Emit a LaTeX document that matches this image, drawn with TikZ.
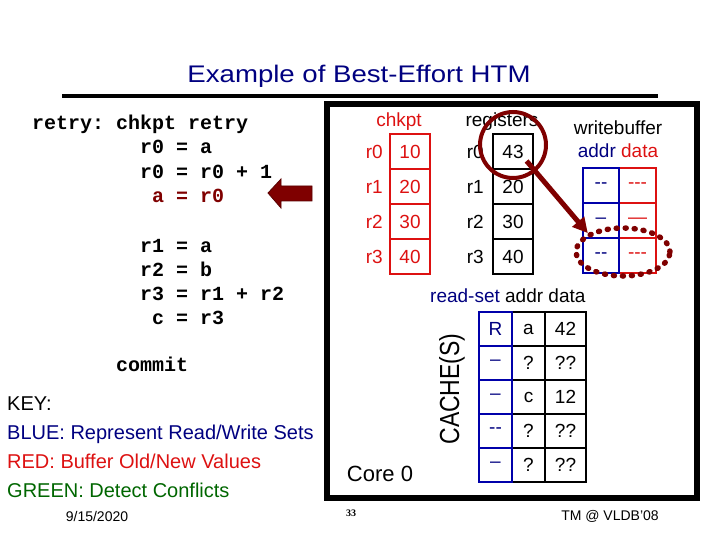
\documentclass[tikz,border=0pt]{standalone}
\usepackage{fontspec}
\setmainfont{Liberation Sans}
\setmonofont{Liberation Mono}
\newfontfamily\slidenum{Liberation Serif}
\usetikzlibrary{positioning}
\usetikzlibrary{shapes.geometric, arrows.meta}

\definecolor{navy}{HTML}{000080}
\definecolor{hotred}{HTML}{DD1111}
\definecolor{maroon}{HTML}{7F0000}
\definecolor{keygreen}{HTML}{006600}
\definecolor{setblue}{HTML}{0000AA}

\newcommand\twodash{-\kern0pt-}
\newcommand\threedash{-\kern0pt-\kern0pt-}
\newcommand\fsz[1]{\fontsize{#1}{#1}\selectfont}

\begin{document}
\begin{tikzpicture}[x=1pt, y=-1pt,
  cell/.style={draw, line width=2pt, inner sep=0pt, minimum width=40pt, minimum height=35pt, font=\fsz{19}},
  chkcell/.style={cell, draw=hotred, text=hotred},
  regcell/.style={cell, draw=black},
  addrcell/.style={cell, draw=setblue, text=navy, minimum width=36pt},
  datacell/.style={cell, draw=hotred, text=hotred, minimum width=37pt},
  rscell/.style={cell, draw=setblue, text=navy, minimum width=33pt, minimum height=34pt},
  cachecell/.style={cell, minimum width=33pt, minimum height=34pt},
  regname/.style={inner sep=0pt, font=\fsz{19}},
  code/.style={anchor=base west, inner sep=0pt, font=\fsz{20}\ttfamily\bfseries},
  keyline/.style={anchor=base west, inner sep=0pt, font=\fsz{20}}]

\useasboundingbox (0,0) rectangle (720,540);

% title and rule
\node[anchor=base, inner sep=0pt, text=navy, font=\fsz{24}, xscale=1.15] (title) at (359,83) {Example of Best-Effort HTM};
\draw[line width=4pt] (62,96) -- (658,96);

% program
\foreach \col/\row/\txt in {0/130/{retry: chkpt retry}, 9/154/{r0 = a}, 9/179/{r0 = r0 + 1},
    9/252/{r1 = a}, 9/276/{r2 = b}, 9/300/{r3 = r1 + r2}, 10/324/{c = r3}, 7/371/{commit}}
  \node[code] at ({32+12*\col},\row) {\txt};
\node[code, text=maroon] (cur) at (152,203) {a = r0};

% pointer to current line
\filldraw[fill=maroon, draw=maroon!70!black, line width=0.8pt]
  (268,193) -- (281,179) -- (281,186) -- (312,186) -- (312,201) -- (281,201) -- (281,208) -- cycle;

% key
\node[keyline] (key) at (7,410) {KEY:};
\node[keyline, text=navy] (kblue) at (7,439) {BLUE: Represent Read/Write Sets};
\node[keyline, text=hotred] (kred) at (7,468) {RED: Buffer Old/New Values};
\node[keyline, text=keygreen] (kgreen) at (7,497) {GREEN: Detect Conflicts};
\node[anchor=base, inner sep=0pt, font=\fsz{14}] (date) at (97,521) {9/15/2020};

% core frame
\draw[line width=6pt] (327,104) rectangle (697,498);
\node[anchor=base, inner sep=0pt, font=\fsz{22}] (core) at (380,481) {Core 0};
\node[inner sep=0pt, font=\fsz{23}, rotate=90, yscale=1.2] (cache) at (452,389) {CACHE(S)};

% checkpoint and registers
\node[anchor=base, inner sep=0pt, text=hotred, font=\fsz{19}] (chklbl) at (399,127) {chkpt};
\node[anchor=base, inner sep=0pt, font=\fsz{19}] (reglbl) at (502,127) {registers};
\foreach \i/\old/\new in {0/10/43, 1/20/20, 2/30/30, 3/40/40} {
  \node[chkcell] (chk\i) at (410,{151.5+35*\i}) {\old};
  \node[regname, text=hotred, left=6pt of chk\i] {r\i};
  \node[regcell] (reg\i) at (513,{151.5+35*\i}) {\new};
  \node[regname, left=8pt of reg\i] {r\i};
}

% write buffer
\node[anchor=base, inner sep=0pt, font=\fsz{19}] (wblbl) at (618,135) {writebuffer};
\node[anchor=base, inner sep=0pt, font=\fsz{19}] (wbcols) at (618,158) {\textcolor{navy}{addr} \textcolor{hotred}{data}};
\foreach \i/\a/\d in {1/\twodash/\threedash, 2/–/—, 3/\twodash/\threedash} {
  \node[datacell] (wbd\i) at (637.5,{150.5+35*\i}) {\d};
  \node[addrcell] (wba\i) at (601,{150.5+35*\i}) {\a};
}

% read set / cache lines
\node[anchor=base west, inner sep=0pt, font=\fsz{19}] (rdset) at (430,302) {\textcolor{navy}{read-set} addr data};
\foreach \i/\r/\a/\d in {1/R/a/42, 2/–/?/??, 3/–/c/12, 4/\twodash/?/??, 5/–/?/??} {
  \node[cachecell] (ca\i) at (528.5,{295+34*\i}) {\a};
  \node[cachecell, minimum width=41pt] (cd\i) at (565.5,{295+34*\i}) {\d};
  \node[rscell] (rs\i) at (495.5,{295+34*\i}) {\r};
}

% conflict: new value goes to the write buffer
\node[circle, draw=maroon, line width=4pt, minimum size=66pt, inner sep=0pt] (hit) at (513,145) {};
\node[ellipse, draw=maroon, line width=5.5pt, line cap=round, dash pattern=on 1pt off 8pt,
  minimum width=94pt, minimum height=48pt, inner sep=0pt] (slot) at (623,252) {};
\draw[maroon, line width=5pt, shorten <=21pt, -{Triangle[length=15pt, width=15pt]}] (hit.center) -- (slot.north west);

% footer
\node[font=\fsz{10}\slidenum\bfseries, inner sep=0pt] (page) at (351,513) {33};
\node[anchor=base, inner sep=0pt, font=\fsz{14}] (venue) at (610,520) {TM @ VLDB'08};

\end{tikzpicture}
\end{document}
